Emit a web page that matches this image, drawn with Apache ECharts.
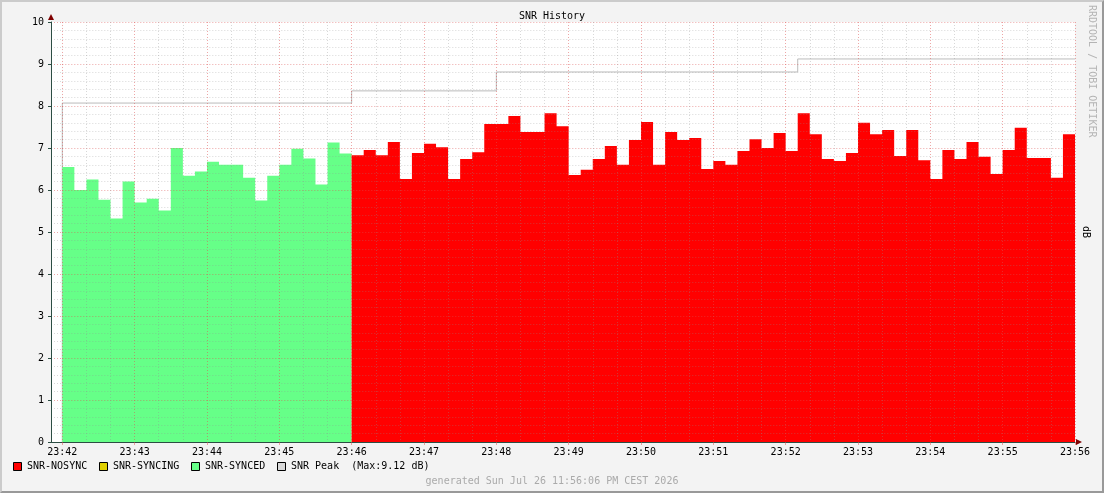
<!DOCTYPE html>
<html>
<head>
<meta charset="utf-8">
<script src="https://cdn.jsdelivr.net/npm/echarts@6/dist/echarts.min.js"></script>
<style>
	html, body { margin: 0; padding: 0; background: #f3f3f3; }
	#wrap { position: relative; width: 1104px; height: 493px; }
	#chart { width: 1104px; height: 493px; }
	#frame {
		position: absolute; left: 0; top: 0; width: 1104px; height: 493px;
		box-sizing: border-box; pointer-events: none;
		border-top: 2px solid #cbcbcb; border-left: 2px solid #cbcbcb;
		border-right: 2px solid #999; border-bottom: 2px solid #999;
	}
</style>
</head>
<body>
<div id="wrap">
	<div id="chart"></div>
	<div id="frame"></div>
</div>
<script>
// samples every 10 s starting at 23:42:00
var stepSeconds = 10;
var timeLabels = ['23:42', '23:43', '23:44', '23:45', '23:46', '23:47', '23:48', '23:49',
	'23:50', '23:51', '23:52', '23:53', '23:54', '23:55', '23:56'];
var syncedValues = [6.55, 6.00, 6.25, 5.77, 5.32, 6.20, 5.70, 5.79, 5.51, 7.00, 6.34, 6.44,
	6.67, 6.60, 6.60, 6.29, 5.75, 6.34, 6.60, 6.98, 6.75, 6.13, 7.13, 6.87];
var nosyncValues = [6.83, 6.95, 6.83, 7.14, 6.26, 6.88, 7.10, 7.02, 6.26, 6.74, 6.90, 7.57,
	7.57, 7.76, 7.38, 7.38, 7.83, 7.52, 6.36, 6.48, 6.74, 7.05, 6.60, 7.19, 7.62, 6.60,
	7.38, 7.19, 7.24, 6.50, 6.69, 6.60, 6.93, 7.21, 7.00, 7.36, 6.93, 7.83, 7.33, 6.74,
	6.69, 6.88, 7.60, 7.33, 7.43, 6.81, 7.43, 6.71, 6.26, 6.95, 6.74, 7.14, 6.79, 6.38,
	6.95, 7.48, 6.76, 6.76, 6.29, 7.33];
// peak level and the second (from 23:42:00) where it starts
var peakStart = [0, 240, 360, 610];
var peakLevel = [8.07, 8.36, 8.81, 9.12];
var peakMax = 9.12;

var font = 'DejaVu Sans Mono';
var gridColor = 'rgba(143,143,143,0.35)';
var mgridColor = 'rgba(222,80,80,0.5)';
var axisColor = '#2c4d43';
var arrowColor = '#7f0000';

// step area points: each value holds for its 10 s slot
toSteps = (values, offset) => {
	var res = values.map((v, i) => [offset + i * stepSeconds, v]);
	res.push([offset + values.length * stepSeconds, values[values.length - 1]]);
	return res;
}
var syncedData = toSteps(syncedValues, 0);
var nosyncData = toSteps(nosyncValues, syncedValues.length * stepSeconds);
var endSec = (syncedValues.length + nosyncValues.length) * stepSeconds;

var peakData = [[0, 0]];
peakStart.forEach((s, i) => peakData.push([s, peakLevel[i]]));
peakData.push([endSec, peakLevel[peakLevel.length - 1]]);

var legendItems = [
	{ x: 13, color: '#ff0000', text: 'SNR-NOSYNC' },
	{ x: 99, color: '#e0d000', text: 'SNR-SYNCING' },
	{ x: 191, color: '#66ff88', text: 'SNR-SYNCED' },
	{ x: 277, color: '#d8d8d8', text: 'SNR Peak  (Max:' + peakMax.toFixed(2) + ' dB)' }
];
var graphics = [];
legendItems.forEach(item => {
	graphics.push({
		type: 'rect', left: item.x, top: 462,
		shape: { width: 8, height: 8 },
		style: { fill: item.color, stroke: '#000', lineWidth: 1 }
	});
	graphics.push({
		type: 'text', left: item.x + 14, top: 461,
		style: { text: item.text, font: '10px ' + font, fill: '#000' }
	});
});
graphics.push({
	type: 'text', left: 'center', top: 476,
	style: { text: 'generated Sun Jul 26 11:56:06 PM CEST 2026', font: '10px ' + font, fill: '#aaa' }
});
graphics.push({
	type: 'text', left: 'center', top: 11,
	style: { text: 'SNR History', font: '10px ' + font, fill: '#000' }
});
graphics.push({
	type: 'text', x: 1092, y: 5, rotation: -Math.PI / 2,
	style: { text: 'RRDTOOL / TOBI OETIKER', font: '10px ' + font, fill: '#b4b4b4', align: 'left', verticalAlign: 'middle' }
});
graphics.push({
	type: 'text', x: 1086, y: 232, rotation: -Math.PI / 2,
	style: { text: 'dB', font: '10px ' + font, fill: '#000', align: 'center', verticalAlign: 'middle' }
});
// axis arrows
graphics.push({
	type: 'polygon', z: 10,
	shape: { points: [[51, 14], [48, 20], [54, 20]] },
	style: { fill: arrowColor }
});
graphics.push({
	type: 'polygon', z: 10,
	shape: { points: [[1082, 442], [1076, 439], [1076, 445]] },
	style: { fill: arrowColor }
});

var chart = echarts.init(document.getElementById('chart'));
var option = {
	animation: false,
	backgroundColor: '#f3f3f3',
	textStyle: { fontFamily: font },
	graphic: graphics,
	grid: [
		{ left: 51, top: 22, width: 11.3, height: 420, show: true, backgroundColor: '#fff', borderWidth: 0 },
		{ left: 62.3, top: 22, width: 1012.7, height: 420, show: true, backgroundColor: '#fff', borderWidth: 0 }
	],
	xAxis: [
		{
			gridIndex: 0, type: 'value', min: 0, max: 1, z: 3,
			axisLine: { lineStyle: { color: axisColor } },
			axisTick: { show: false }, axisLabel: { show: false }, splitLine: { show: false }
		},
		{
			gridIndex: 1, type: 'value', min: 0, max: endSec, interval: 60, z: 3,
			axisLine: { lineStyle: { color: axisColor } },
			axisTick: { show: true, length: 3, inside: false, lineStyle: { color: mgridColor } },
			axisLabel: {
				margin: 5, color: '#000', fontSize: 10, fontFamily: font,
				formatter: v => timeLabels[Math.round(v / 60)]
			},
			splitLine: { show: true, lineStyle: { color: mgridColor, type: [1, 2] } },
			minorTick: { show: false, splitNumber: 3 },
			minorSplitLine: { show: true, lineStyle: { color: gridColor, type: [1, 2] } }
		}
	],
	yAxis: [
		{
			gridIndex: 0, type: 'value', min: 0, max: 10, interval: 1, z: 3,
			axisLine: { show: true, lineStyle: { color: axisColor } },
			axisTick: { show: true, length: 3, lineStyle: { color: axisColor } },
			axisLabel: { margin: 7, color: '#000', fontSize: 10, fontFamily: font },
			splitLine: { show: true, lineStyle: { color: mgridColor, type: [1, 2] } },
			minorTick: { show: false, splitNumber: 5 },
			minorSplitLine: { show: true, lineStyle: { color: gridColor, type: [1, 2] } }
		},
		{
			gridIndex: 1, type: 'value', min: 0, max: 10, interval: 1, z: 3,
			axisLine: { show: false }, axisTick: { show: false }, axisLabel: { show: false },
			splitLine: { show: true, lineStyle: { color: mgridColor, type: [1, 2] } },
			minorTick: { show: false, splitNumber: 5 },
			minorSplitLine: { show: true, lineStyle: { color: gridColor, type: [1, 2] } }
		}
	],
	series: [
		{
			name: 'SNR Peak', type: 'line', xAxisIndex: 1, yAxisIndex: 1,
			data: peakData, step: 'end', symbol: 'none', z: 1,
			lineStyle: { color: '#bbbbbb', width: 1 }
		},
		{
			name: 'SNR-SYNCED', type: 'line', xAxisIndex: 1, yAxisIndex: 1,
			data: syncedData, step: 'end', symbol: 'none', z: 2,
			lineStyle: { width: 0 },
			areaStyle: { color: '#66ff88', opacity: 1 }
		},
		{
			name: 'SNR-NOSYNC', type: 'line', xAxisIndex: 1, yAxisIndex: 1,
			data: nosyncData, step: 'end', symbol: 'none', z: 2,
			lineStyle: { width: 0 },
			areaStyle: { color: '#ff0000', opacity: 1 }
		}
	]
};
chart.setOption(option);
</script>
</body>
</html>
